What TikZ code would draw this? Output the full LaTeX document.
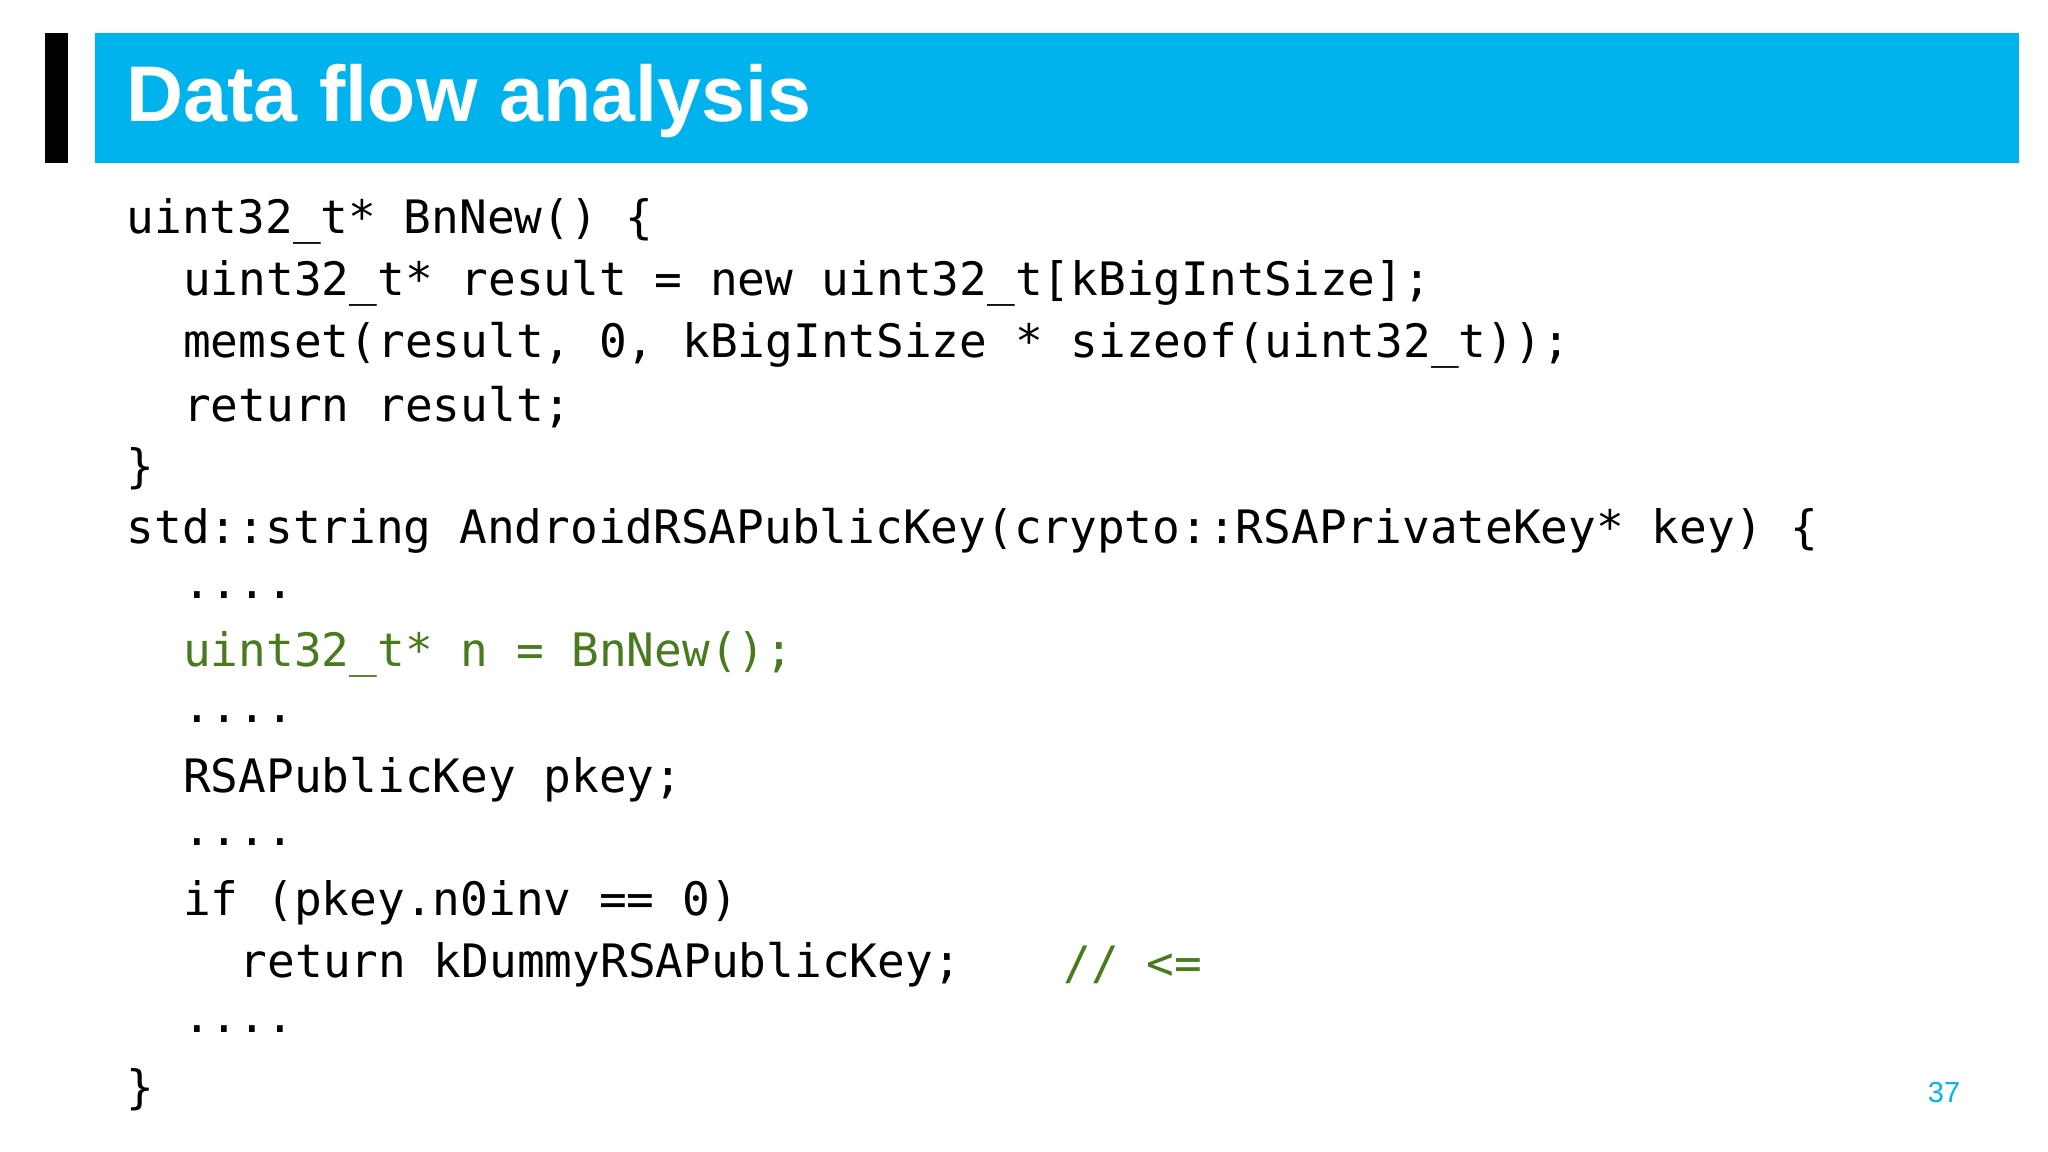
\documentclass[tikz,border=0pt]{standalone}
\usepackage{fontspec}
\setmainfont{Liberation Sans}
\newfontfamily\codefont{DejaVu Sans Mono}
\definecolor{banner}{HTML}{00B3EC}
\definecolor{codegreen}{HTML}{4A7A1E}
\begin{document}
\begin{tikzpicture}[x=1pt,y=-1pt,
  code/.style={anchor=west,inner sep=0pt,font=\codefont\fontsize{35}{40}\selectfont,text=black},
  gcode/.style={code,text=codegreen}]
\useasboundingbox[fill=white] (0,0) rectangle (1556,875);
\fill[black] (34,25) rectangle (52,124);
\fill[banner] (72,25) rectangle (1534,124);
\node[anchor=west,inner sep=0pt,text=white,font=\bfseries\fontsize{60}{66}\selectfont] (title) at (96,77) {Data flow analysis};
\def\ind{43}
\node[code] (l1) at (96,168) {uint32\_t* BnNew() \{};
\node[code] (l2) at (96+\ind,215) {uint32\_t* result = new uint32\_t[kBigIntSize];};
\node[code] (l3) at (96+\ind,262) {memset(result, 0, kBigIntSize * sizeof(uint32\_t));};
\node[code] (l4) at (96+\ind,309) {return result;};
\node[code] (l5) at (96,356) {\}};
\node[code] (l6) at (96,403) {std::string AndroidRSAPublicKey(crypto::RSAPrivateKey* key) \{};
\node[code] (l7) at (96+\ind,452) {....};
\node[gcode] (l8) at (96+\ind,497) {uint32\_t* n = BnNew();};
\node[code] (l9) at (96+\ind,546) {....};
\node[code] (l10) at (96+\ind,592) {RSAPublicKey pkey;};
\node[code] (l11) at (96+\ind,640) {....};
\node[code] (l12) at (96+\ind,686) {if (pkey.n0inv == 0)};
\node[code] (l13) at (96+2*\ind,733) {return kDummyRSAPublicKey;};
\node[gcode] (cm) at (808,733) {// <=};
\node[code] (l14) at (96+\ind,782) {....};
\node[code] (l15) at (96,828) {\}};
\node[anchor=center,inner sep=0pt,text=banner,font=\fontsize{22}{26}\selectfont] (pg) at (1477,830) {37};
\end{tikzpicture}
\end{document}
